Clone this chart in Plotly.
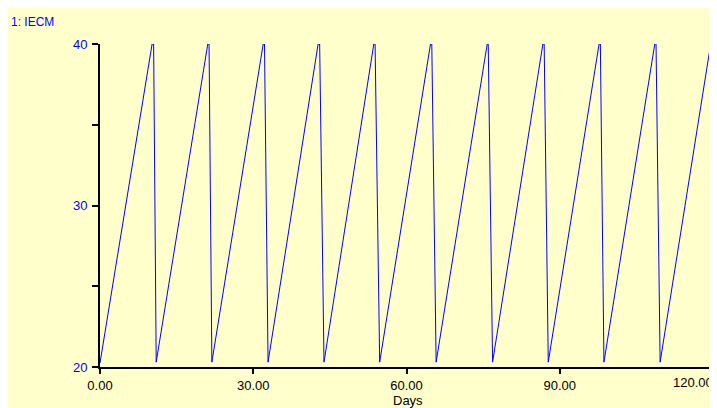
import plotly.graph_objects as go

# ---- data ----
trough_t = [0.0, 11.0, 21.9, 32.9, 43.85, 54.75, 65.8, 76.85, 87.75, 98.65, 109.65]
trough_v = [20.25, 20.3, 20.3, 20.3, 20.3, 20.3, 20.3, 20.3, 20.3, 20.3, 20.3]
peak_t = [10.2, 21.1, 31.95, 42.7, 53.6, 64.7, 75.8, 86.7, 97.7, 108.6, 119.55]
peak_v = [40, 40, 40, 40, 40, 40, 40, 40, 40, 40, 40]
drop_t = [10.5, 21.35, 32.2, 43.0, 53.85, 64.95, 76.0, 86.95, 97.95, 108.85]

x_ticks = [0, 30, 60, 90, 120]
x_labels = ["0.00", "30.00", "60.00", "90.00", ""]
last_x_label = "120.00"
y_ticks = [20, 25, 30, 35, 40]
y_labels = ["20", "", "30", "", "40"]

t, v = [], []
for k in range(len(trough_t)):
    t.append(trough_t[k]); v.append(trough_v[k])
    t.append(peak_t[k]); v.append(peak_v[k])
    if k < len(drop_t):
        t.append(drop_t[k]); v.append(peak_v[k])

YEL = "#FFFFCC"
FONT = "Liberation Sans, Arial, sans-serif"

# page has an 8px body margin; figure sized to fill the rest of the window
W, H = 709, 400
L, R, T, B = 92, 4, 36, 41
pw, ph = W - L - R, H - T - B

def px(xp):
    return (xp - L) / pw

def py(yp):
    return (H - B - yp) / ph

fig = go.Figure()
fig.add_trace(go.Scatter(x=t, y=v, mode="lines",
                         line=dict(color="#0000FF", width=1),
                         cliponaxis=False, hoverinfo="skip"))

fig.add_annotation(text="1: IECM", xref="paper", yref="paper",
                   x=px(1), y=py(14), xanchor="left", yanchor="middle",
                   showarrow=False, font=dict(family=FONT, size=12, color="#0000FF"))
fig.add_annotation(text="Days", xref="paper", yref="paper",
                   x=px(400), y=py(393), xanchor="center", yanchor="middle",
                   showarrow=False, font=dict(family=FONT, size=13, color="#000000"))
fig.add_annotation(text=last_x_label, xref="paper", yref="paper",
                   x=px(707), y=py(375), xanchor="right", yanchor="middle",
                   showarrow=False, font=dict(family=FONT, size=13, color="#000000"))

fig.update_layout(
    width=W, height=H,
    margin=dict(l=L, r=R, t=T, b=B, pad=0),
    paper_bgcolor=YEL, plot_bgcolor=YEL,
    showlegend=False,
    xaxis=dict(range=[0, 120], tickvals=x_ticks, ticktext=x_labels,
               showgrid=False, zeroline=False, showline=True,
               linecolor="black", linewidth=2, ticks="outside",
               ticklen=5, tickwidth=2, tickcolor="black",
               tickfont=dict(family=FONT, size=13, color="black")),
    yaxis=dict(range=[20, 40], tickvals=y_ticks, ticktext=y_labels,
               showgrid=False, zeroline=False, showline=True,
               linecolor="black", linewidth=2, ticks="outside",
               ticklen=6, tickwidth=2, tickcolor="black", ticklabelstandoff=2,
               tickfont=dict(family=FONT, size=13, color="#0000FF")),
)

fig.write_html("out.html")
